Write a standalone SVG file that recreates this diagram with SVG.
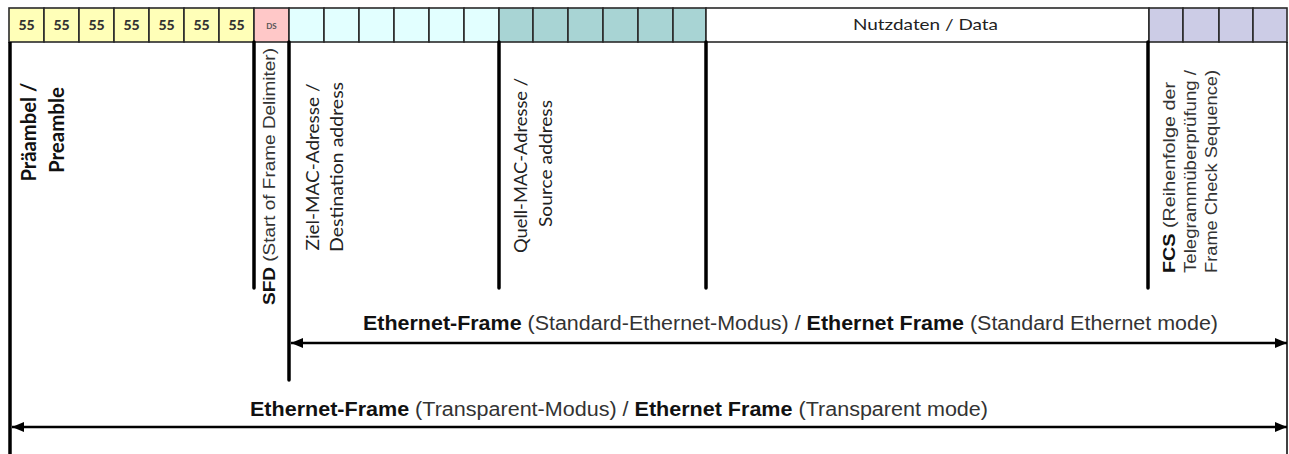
<svg xmlns="http://www.w3.org/2000/svg" width="1289" height="454" viewBox="0 0 1289 454">
<style>
.cell{stroke:#2a2a2a;stroke-width:1.6}
.y{fill:#FFFFB8}.ds{fill:#FFC8C8}.c{fill:#E2FFFF}.t{fill:#A8D4D4}.p{fill:#CCCCE6}.w{fill:#fff}
.n{font-family:Lato,"Liberation Sans",sans-serif;font-weight:900;font-size:14px;fill:#333;text-anchor:middle}
.sep{stroke:#000;stroke-width:3.5;fill:none}
.arr{stroke:#000;stroke-width:2.5;fill:none;marker-start:url(#ah);marker-end:url(#ah)}
.a{font-family:"Liberation Sans",Arial,sans-serif;fill:#333}
.c2{font-family:Lato,"Liberation Sans",sans-serif;fill:#222}
.b{font-weight:bold;fill:#111}
</style>
<defs>
<marker id="ah" viewBox="0 0 12 10" refX="12" refY="5" markerWidth="12" markerHeight="10" markerUnits="userSpaceOnUse" orient="auto-start-reverse">
<path d="M0,0 L12,5 L0,10 Z" fill="#000"/>
</marker>
</defs>
<g id="strip">
<rect class="cell y" x="9" y="8" width="35" height="34"/>
<rect class="cell y" x="44" y="8" width="35" height="34"/>
<rect class="cell y" x="79" y="8" width="35" height="34"/>
<rect class="cell y" x="114" y="8" width="35" height="34"/>
<rect class="cell y" x="149" y="8" width="35" height="34"/>
<rect class="cell y" x="184" y="8" width="35" height="34"/>
<rect class="cell y" x="219" y="8" width="35" height="34"/>
<rect class="cell ds" x="254" y="8" width="35" height="34"/>
<rect class="cell c" x="289" y="8" width="35" height="34"/>
<rect class="cell c" x="324" y="8" width="35" height="34"/>
<rect class="cell c" x="359" y="8" width="35" height="34"/>
<rect class="cell c" x="394" y="8" width="35" height="34"/>
<rect class="cell c" x="429" y="8" width="35" height="34"/>
<rect class="cell c" x="464" y="8" width="35" height="34"/>
<rect class="cell t" x="499" y="8" width="34" height="34"/>
<rect class="cell t" x="533" y="8" width="35" height="34"/>
<rect class="cell t" x="568" y="8" width="35" height="34"/>
<rect class="cell t" x="603" y="8" width="35" height="34"/>
<rect class="cell t" x="638" y="8" width="35" height="34"/>
<rect class="cell t" x="673" y="8" width="33" height="34"/>
<rect class="cell w" x="706" y="8" width="443" height="34"/>
<rect class="cell p" x="1149" y="8" width="34" height="34"/>
<rect class="cell p" x="1183" y="8" width="36" height="34"/>
<rect class="cell p" x="1219" y="8" width="34" height="34"/>
<rect class="cell p" x="1253" y="8" width="34" height="34"/>
<text class="n" x="26.5" y="30">55</text>
<text class="n" x="61.5" y="30">55</text>
<text class="n" x="96.5" y="30">55</text>
<text class="n" x="131.5" y="30">55</text>
<text class="n" x="166.5" y="30">55</text>
<text class="n" x="201.5" y="30">55</text>
<text class="n" x="236.5" y="30">55</text>
<text x="271.5" y="29" font-family="Lato,'Liberation Sans',sans-serif" font-weight="bold" font-size="8" fill="#555" text-anchor="middle">DS</text>
<text class="c2" x="853" y="30" font-size="15" textLength="145" lengthAdjust="spacingAndGlyphs">Nutzdaten / Data</text>
</g>
<g id="preamble">
<text class="c2 b" font-size="20" text-anchor="middle" transform="translate(36,132) rotate(-90)" textLength="99" lengthAdjust="spacingAndGlyphs">Präambel /</text>
<text class="c2 b" font-size="20" text-anchor="middle" transform="translate(64,130) rotate(-90)" textLength="86" lengthAdjust="spacingAndGlyphs">Preamble</text>
</g>
<g id="sfd">
<text class="a" font-size="17" transform="translate(275,305) rotate(-90)" textLength="257" lengthAdjust="spacingAndGlyphs"><tspan class="b">SFD</tspan> (Start of Frame Delimiter)</text>
</g>
<g id="dest">
<text class="c2" font-size="18" text-anchor="middle" transform="translate(319,167) rotate(-90)" textLength="167" lengthAdjust="spacingAndGlyphs">Ziel-MAC-Adresse /</text>
<text class="c2" font-size="18" text-anchor="middle" transform="translate(343,167) rotate(-90)" textLength="170" lengthAdjust="spacingAndGlyphs">Destination address</text>
</g>
<g id="source">
<text class="c2" font-size="18" text-anchor="middle" transform="translate(527,165.5) rotate(-90)" textLength="175" lengthAdjust="spacingAndGlyphs">Quell-MAC-Adresse /</text>
<text class="c2" font-size="18" text-anchor="middle" transform="translate(552,163.5) rotate(-90)" textLength="127" lengthAdjust="spacingAndGlyphs">Source address</text>
</g>
<g id="fcs">
<text class="a" font-size="16" transform="translate(1175,273) rotate(-90)" textLength="191" lengthAdjust="spacingAndGlyphs"><tspan class="b">FCS</tspan> (Reihenfolge der</text>
<text class="a" font-size="16" transform="translate(1196,273) rotate(-90)" textLength="203" lengthAdjust="spacingAndGlyphs">Telegrammüberprüfung /</text>
<text class="a" font-size="16" transform="translate(1217,273) rotate(-90)" textLength="203" lengthAdjust="spacingAndGlyphs">Frame Check Sequence)</text>
</g>
<g id="connectors">
<line class="sep" x1="10" y1="42" x2="10" y2="454"/>
<line class="sep" x1="254" y1="42" x2="254" y2="288" stroke-linecap="round"/>
<line class="sep" x1="289" y1="42" x2="289" y2="380" stroke-linecap="round"/>
<line class="sep" x1="499" y1="42" x2="499" y2="288" stroke-linecap="round"/>
<line class="sep" x1="706" y1="42" x2="706" y2="288" stroke-linecap="round"/>
<line class="sep" x1="1148" y1="42" x2="1148" y2="288" stroke-linecap="round"/>
<line x1="1287" y1="42" x2="1287" y2="454" stroke="#000" stroke-width="1.5"/>
<line class="arr" x1="291" y1="343" x2="1287" y2="343"/>
<line class="arr" x1="12" y1="427" x2="1287" y2="427"/>
</g>
<g id="labels">
<text class="a" x="363" y="330" font-size="20" textLength="855" lengthAdjust="spacingAndGlyphs"><tspan class="b">Ethernet-Frame</tspan> (Standard-Ethernet-Modus) / <tspan class="b">Ethernet Frame</tspan> (Standard Ethernet mode)</text>
<text class="a" x="250" y="416" font-size="20" textLength="738" lengthAdjust="spacingAndGlyphs"><tspan class="b">Ethernet-Frame</tspan> (Transparent-Modus) / <tspan class="b">Ethernet Frame</tspan> (Transparent mode)</text>
</g>
</svg>
